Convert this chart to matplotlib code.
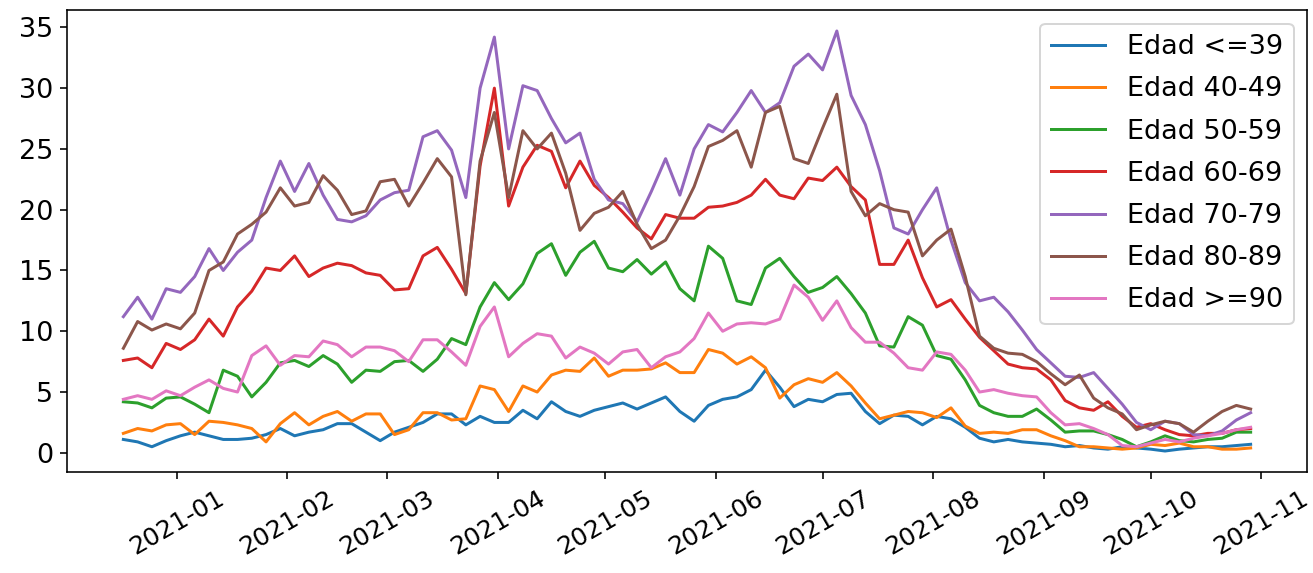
import matplotlib
matplotlib.use("Agg")
import matplotlib.pyplot as plt
import matplotlib.dates as mdates
import pandas as pd

# Dates: every 4 days from 2020-12-17 to 2021-10-29
fechas = pd.date_range("2020-12-17", periods=80, freq="4D")

edad_39 = [1.1, 0.9, 0.5, 1.0, 1.4, 1.7, 1.4, 1.1, 1.1, 1.2,
           1.5, 2.0, 1.4, 1.7, 1.9, 2.4, 2.4, 1.7, 1.0, 1.7,
           2.1, 2.5, 3.2, 3.2, 2.3, 3.0, 2.5, 2.5, 3.5, 2.8,
           4.2, 3.4, 3.0, 3.5, 3.8, 4.1, 3.6, 4.1, 4.6, 3.4,
           2.6, 3.9, 4.4, 4.6, 5.2, 6.8, 5.4, 3.8, 4.4, 4.2,
           4.8, 4.9, 3.4, 2.4, 3.1, 3.0, 2.3, 3.0, 2.8, 2.1,
           1.2, 0.9, 1.1, 0.9, 0.8, 0.7, 0.5, 0.6, 0.4, 0.3,
           0.5, 0.4, 0.3, 0.15, 0.3, 0.4, 0.5, 0.5, 0.6, 0.7]

edad_40_49 = [1.6, 2.0, 1.8, 2.3, 2.4, 1.5, 2.6, 2.5, 2.3, 2.0,
              0.9, 2.4, 3.3, 2.3, 3.0, 3.4, 2.6, 3.2, 3.2, 1.5,
              1.9, 3.3, 3.3, 2.7, 2.8, 5.5, 5.2, 3.4, 5.5, 5.0,
              6.4, 6.8, 6.7, 7.8, 6.3, 6.8, 6.8, 6.9, 7.4, 6.6,
              6.6, 8.5, 8.2, 7.3, 7.9, 7.0, 4.5, 5.6, 6.1, 5.8,
              6.6, 5.5, 4.1, 2.8, 3.1, 3.4, 3.3, 2.9, 3.7, 2.2,
              1.6, 1.7, 1.6, 1.9, 1.9, 1.4, 1.0, 0.5, 0.5, 0.4,
              0.3, 0.4, 0.7, 0.6, 0.8, 0.5, 0.5, 0.3, 0.3, 0.4]

edad_50_59 = [4.2, 4.1, 3.7, 4.5, 4.6, 4.0, 3.3, 6.8, 6.3, 4.6,
              5.8, 7.4, 7.6, 7.1, 8.0, 7.3, 5.8, 6.8, 6.7, 7.5,
              7.6, 6.7, 7.7, 9.4, 8.9, 12.0, 14.0, 12.6, 13.9, 16.4,
              17.2, 14.6, 16.5, 17.4, 15.2, 14.9, 15.9, 14.7, 15.7, 13.5,
              12.5, 17.0, 16.0, 12.5, 12.2, 15.2, 16.0, 14.5, 13.2, 13.6,
              14.5, 13.1, 11.5, 8.8, 8.7, 11.2, 10.5, 8.0, 7.7, 6.0,
              3.9, 3.3, 3.0, 3.0, 3.6, 2.7, 1.7, 1.8, 1.8, 1.5,
              1.1, 0.5, 0.9, 1.4, 1.0, 0.9, 1.1, 1.2, 1.7, 1.7]

edad_60_69 = [7.6, 7.8, 7.0, 9.0, 8.5, 9.3, 11.0, 9.6, 12.0, 13.3,
              15.2, 15.0, 16.2, 14.5, 15.2, 15.6, 15.4, 14.8, 14.6, 13.4,
              13.5, 16.2, 16.9, 15.1, 13.1, 23.6, 30.0, 20.3, 23.5, 25.3,
              24.8, 21.8, 24.0, 22.0, 21.0, 19.8, 18.5, 17.6, 19.6, 19.3,
              19.3, 20.2, 20.3, 20.6, 21.2, 22.5, 21.2, 20.9, 22.6, 22.4,
              23.5, 21.9, 20.8, 15.5, 15.5, 17.5, 14.4, 12.0, 12.6, 11.0,
              9.5, 8.4, 7.3, 7.0, 6.9, 6.0, 4.3, 3.7, 3.5, 4.2,
              3.0, 2.1, 2.4, 1.9, 1.5, 1.4, 1.6, 1.6, 1.9, 2.0]

edad_70_79 = [11.2, 12.8, 11.0, 13.5, 13.2, 14.5, 16.8, 15.0, 16.5, 17.5,
              21.0, 24.0, 21.5, 23.8, 21.2, 19.2, 19.0, 19.5, 20.8, 21.4,
              21.6, 26.0, 26.5, 24.9, 21.0, 30.0, 34.2, 25.0, 30.2, 29.8,
              27.5, 25.5, 26.3, 22.5, 20.8, 20.5, 19.0, 21.5, 24.2, 21.2,
              25.0, 27.0, 26.4, 28.0, 29.8, 28.0, 28.8, 31.8, 32.8, 31.5,
              34.7, 29.4, 27.0, 23.2, 18.5, 18.0, 20.0, 21.8, 17.5, 14.0,
              12.5, 12.8, 11.6, 10.1, 8.5, 7.4, 6.3, 6.2, 6.6, 5.3,
              4.0, 2.5, 1.9, 2.6, 2.4, 1.5, 1.4, 1.8, 2.7, 3.3]

edad_80_89 = [8.6, 10.8, 10.1, 10.6, 10.2, 11.5, 15.0, 15.7, 18.0, 18.8,
              19.8, 21.8, 20.3, 20.6, 22.8, 21.6, 19.6, 19.9, 22.3, 22.5,
              20.3, 22.2, 24.2, 22.7, 13.0, 24.0, 28.0, 21.0, 26.5, 25.0,
              26.3, 23.0, 18.3, 19.7, 20.2, 21.5, 18.8, 16.8, 17.5, 19.5,
              21.9, 25.2, 25.7, 26.5, 23.5, 28.0, 28.5, 24.2, 23.8, 26.7,
              29.5, 21.5, 19.5, 20.5, 20.0, 19.8, 16.2, 17.5, 18.4, 14.5,
              9.6, 8.6, 8.2, 8.1, 7.5, 6.5, 5.6, 6.4, 4.5, 3.7,
              3.2, 1.9, 2.3, 2.6, 2.4, 1.7, 2.6, 3.4, 3.9, 3.6]

edad_90 = [4.4, 4.7, 4.4, 5.1, 4.7, 5.4, 6.0, 5.3, 5.0, 8.0,
           8.8, 7.2, 8.0, 7.9, 9.2, 8.9, 7.9, 8.7, 8.7, 8.4,
           7.5, 9.3, 9.3, 8.3, 7.2, 10.4, 12.0, 7.9, 9.0, 9.8,
           9.6, 7.8, 8.7, 8.2, 7.3, 8.3, 8.5, 7.0, 7.9, 8.3,
           9.4, 11.5, 10.0, 10.6, 10.7, 10.6, 11.0, 13.8, 12.8, 10.9,
           12.5, 10.3, 9.1, 9.1, 8.2, 7.0, 6.8, 8.3, 8.1, 6.8,
           5.0, 5.2, 4.9, 4.7, 4.6, 3.3, 2.3, 2.4, 2.0, 1.5,
           0.6, 0.5, 0.8, 1.1, 0.9, 1.2, 1.4, 1.6, 1.9, 2.1]

etiquetas = ["Edad <=39", "Edad 40-49", "Edad 50-59", "Edad 60-69",
             "Edad 70-79", "Edad 80-89", "Edad >=90"]
series = [edad_39, edad_40_49, edad_50_59, edad_60_69,
          edad_70_79, edad_80_89, edad_90]

plt.rcParams["font.size"] = 13.5

dpi = 144
fig = plt.figure(figsize=(1313 / dpi, 573 / dpi), dpi=dpi)
ax = fig.add_axes([67 / 1313, 101 / 573, 1240 / 1313, 462 / 573])

for vals, lab in zip(series, etiquetas):
    ax.plot(fechas, vals, label=lab, linewidth=1.5)

ax.xaxis.set_major_locator(mdates.MonthLocator())
ax.xaxis.set_major_formatter(mdates.DateFormatter("%Y-%m"))
ax.set_yticks([0, 5, 10, 15, 20, 25, 30, 35])
ax.tick_params(axis="x", labelsize=12.5)
for lbl in ax.get_xticklabels():
    lbl.set_rotation(30)
ax.legend(loc="upper right", labelspacing=0.6)

fig.savefig("out.png", dpi=dpi)
